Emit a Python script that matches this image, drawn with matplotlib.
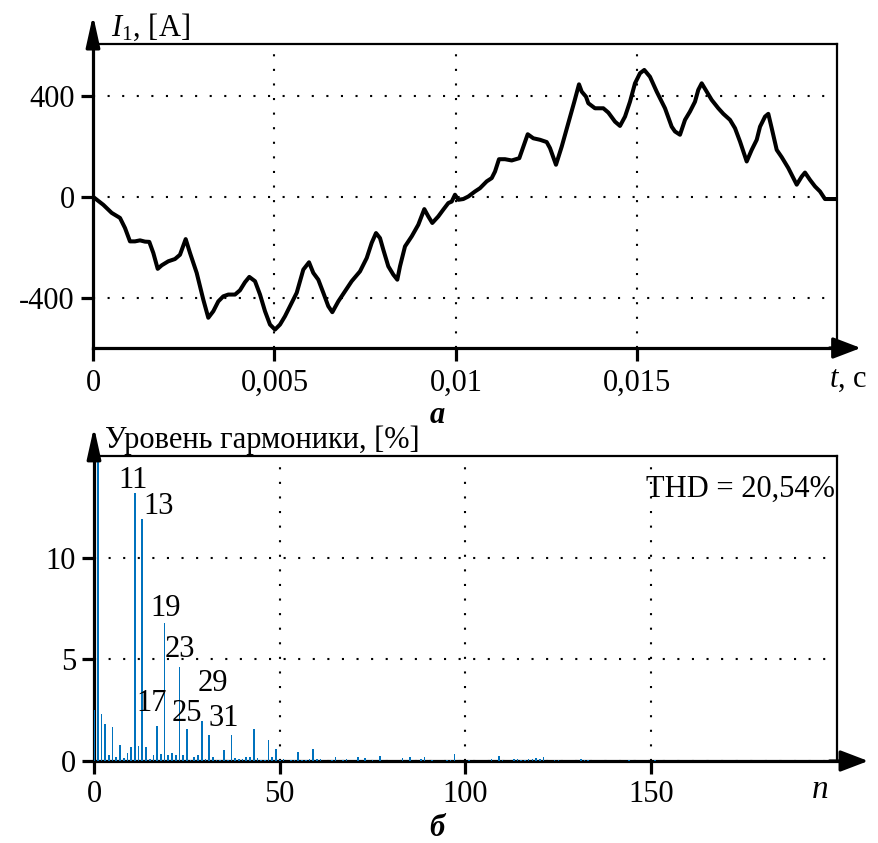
import matplotlib
matplotlib.use('Agg')
import matplotlib.pyplot as plt
import numpy as np

plt.rcParams['font.family'] = ['Liberation Serif', 'DejaVu Serif']
plt.rcParams['mathtext.fontset'] = 'custom'
plt.rcParams['mathtext.rm'] = 'Liberation Serif'
plt.rcParams['mathtext.it'] = 'Liberation Serif:italic'

# ---- data: phase current waveform ----
time_ms = [0.0, 0.284, 0.515, 0.744, 0.882, 1.019, 1.157, 1.295, 1.433, 1.551,
           1.662, 1.783, 1.893, 2.075, 2.259, 2.397, 2.554, 2.673, 2.857, 3.039,
           3.177, 3.315, 3.453, 3.590, 3.728, 3.913, 4.050, 4.188, 4.307, 4.464,
           4.602, 4.739, 4.877, 5.015, 5.153, 5.290, 5.428, 5.613, 5.795, 5.952,
           6.070, 6.208, 6.346, 6.483, 6.594, 6.759, 6.944, 7.128, 7.357, 7.542,
           7.679, 7.798, 7.908, 7.999, 8.137, 8.275, 8.385, 8.459, 8.597, 8.782,
           8.963, 9.129, 9.239, 9.349, 9.514, 9.652, 9.790, 9.884, 9.974, 10.066,
           10.203, 10.341, 10.526, 10.663, 10.848, 10.986, 11.077, 11.187, 11.352, 11.537,
           11.746, 11.857, 11.978, 12.132, 12.317, 12.501, 12.592, 12.757, 12.915, 13.097,
           13.262, 13.391, 13.466, 13.584, 13.648, 13.832, 14.061, 14.199, 14.383, 14.521,
           14.659, 14.796, 14.934, 15.072, 15.190, 15.347, 15.532, 15.761, 15.945, 16.036,
           16.174, 16.312, 16.449, 16.587, 16.678, 16.772, 16.910, 17.048, 17.230, 17.368,
           17.552, 17.690, 17.828, 18.012, 18.150, 18.288, 18.379, 18.517, 18.607, 18.701,
           18.839, 18.977, 19.158, 19.390, 19.527, 19.618, 19.756, 19.894, 20.032, 20.169,
           20.307, 20.464]
current_A = [0, -32, -64, -84, -124, -177, -177, -173, -178, -179,
             -223, -286, -272, -256, -247, -230, -168, -223, -302, -408,
             -480, -454, -415, -395, -388, -388, -371, -339, -318, -335,
             -388, -454, -507, -527, -507, -474, -434, -381, -289, -260,
             -302, -329, -381, -434, -458, -415, -375, -335, -296, -243,
             -183, -144, -164, -210, -276, -309, -329, -276, -197, -157,
             -111, -49, -78, -104, -78, -51, -25, -19, 8, -12,
             -9, 1, 21, 34, 61, 74, 100, 149, 149, 144,
             153, 199, 248, 232, 226, 217, 193, 127, 199, 292,
             377, 446, 417, 397, 371, 351, 351, 334, 298, 281,
             318, 377, 450, 490, 503, 476, 417, 351, 278, 259,
             246, 305, 338, 377, 424, 450, 417, 384, 351, 329,
             305, 272, 219, 140, 186, 226, 278, 318, 329, 272,
             186, 157, 114, 48, 80, 96, 67, 41, 21, -9,
             -9, -9]

# ---- data: harmonic spectrum, % of fundamental ----
harm_orders = list(range(0, 62)) + [64, 65, 67, 68, 71, 73, 75, 77, 83, 85, 88, 89, 91,
                                    95, 96, 97, 101, 107, 109, 110, 113, 114, 115, 116,
                                    117, 118, 119, 120, 121, 124, 125, 131, 132, 133,
                                    144, 151]
harm_levels = [2.5, 100.0, 2.3, 1.8, 0.28, 1.67, 0.2, 0.8, 0.15, 0.4,
               0.68, 13.2, 0.75, 11.9, 0.68, 0.12, 0.3, 1.7, 0.35, 6.8,
               0.3, 0.38, 0.28, 4.6, 0.3, 1.55, 0.07, 0.2, 0.28, 1.95,
               0.1, 1.3, 0.22, 0.05, 0.06, 0.55, 0.05, 1.3, 0.15, 0.1,
               0.08, 0.22, 0.22, 1.55, 0.15, 0.07, 0.04, 1.02, 0.2, 0.6,
               0.03, 0.12, 0.02, 0.03, 0.03, 0.45, 0.05, 0.05, 0.1, 0.57,
               0.08, 0.08] + \
              [0.04, 0.22, 0.07, 0.08, 0.22, 0.17, 0.04, 0.23, 0.13, 0.18, 0.08, 0.18, 0.05,
               0.05, 0.05, 0.33, 0.05, 0.08, 0.26, 0.05, 0.08, 0.1, 0.05, 0.05,
               0.1, 0.1, 0.13, 0.1, 0.18, 0.04, 0.04, 0.08, 0.04, 0.04,
               0.04, 0.04]

peak_labels = ['11', '13', '17', '19', '23', '25', '29', '31']
peak_label_n = [10.5, 17.5, 15.6, 19.4, 23.2, 25.1, 32.1, 34.8]
peak_label_v = [13.8, 12.5, 2.85, 7.5, 5.5, 2.35, 3.8, 2.1]
thd_text = 'THD = 20,54%'

top_xticks = [0, 0.005, 0.01, 0.015]
top_xticklabels = ['0', '0,005', '0,01', '0,015']
top_yticks = [-400, 0, 400]
top_yticklabels = ['-400', '0', '400']
bot_xticks = [0, 50, 100, 150]
bot_yticks = [0, 5, 10]

W, H = 879, 843
fig = plt.figure(figsize=(W / 100, H / 100), dpi=100)
FS = 22
grid_kw = dict(color='black', linestyle=(0, (1, 6)), linewidth=1.5)


def style_axes(ax):
    for s in ['left', 'bottom']:
        ax.spines[s].set_linewidth(2.3)
    for s in ['top', 'right']:
        ax.spines[s].set_linewidth(1.6)
    ax.tick_params(direction='out', length=9, width=2.3, labelsize=FS,
                   top=False, right=False)
    ax.grid(True, **grid_kw)
    ax.set_axisbelow(True)


def axis_arrows(ax, xtip, ytip):
    apx = dict(arrowstyle='-|>,head_length=1.7,head_width=0.65', lw=2.3,
               color='black', shrinkA=0, shrinkB=0)
    apy = dict(arrowstyle='-|>,head_length=1.9,head_width=0.42', lw=2.3,
               color='black', shrinkA=0, shrinkB=0)
    ax.annotate('', xy=(xtip, 0), xytext=(0.99, 0), xycoords='axes fraction',
                arrowprops=apx, annotation_clip=False)
    ax.annotate('', xy=(0, ytip), xytext=(0, 0.99), xycoords='axes fraction',
                arrowprops=apy, annotation_clip=False)


# ---------- top: current waveform ----------
ax1 = fig.add_axes([93 / W, 1 - 348 / H, 744 / W, 304 / H])
t = np.array(time_ms) / 1000.0
ax1.plot(t, current_A, color='black', lw=2.9, solid_joinstyle='round')
ax1.set_xlim(0, 0.0205)
ax1.set_ylim(-600, 606)
ax1.set_xticks(top_xticks)
ax1.set_xticklabels(top_xticklabels)
ax1.set_yticks(top_yticks)
ax1.set_yticklabels(top_yticklabels)
style_axes(ax1)
ax1.tick_params(axis='x', pad=6)
ax1.tick_params(axis='y', pad=4)
axis_arrows(ax1, 1.032, 1.095)

fig.text(111 / W, 1 - 27 / H, r'$\mathit{I}_{\mathrm{1}}$, [A]', fontsize=FS,
         ha='left', va='center')
fig.text(829 / W, 1 - 379 / H, r'$\mathit{t}$, c', fontsize=FS, ha='left', va='center')
fig.text(437 / W, 1 - 416 / H, 'а', fontsize=FS, fontweight='bold',
         fontstyle='italic', ha='center', va='center')

# ---------- bottom: harmonic spectrum ----------
ax2 = fig.add_axes([94 / W, 1 - 761 / H, 743 / W, 305 / H])
ax2.bar(harm_orders, harm_levels, width=0.45, color='#0072BD', zorder=3)
ax2.set_xlim(0, 200)
ax2.set_ylim(0, 15)
ax2.set_xticks(bot_xticks)
ax2.set_yticks(bot_yticks)
style_axes(ax2)
ax2.tick_params(axis='x', pad=5)
ax2.tick_params(axis='y', pad=4)
for lab, n, v in zip(peak_labels, peak_label_n, peak_label_v):
    ax2.text(n, v, lab, fontsize=FS, ha='center', va='center', zorder=4)
ax2.text(0.997, 0.89, thd_text, transform=ax2.transAxes, fontsize=FS,
         ha='right', va='center')
axis_arrows(ax2, 1.042, 1.095)

fig.text(105 / W, 1 - 440 / H, 'Уровень гармоники, [%]', fontsize=FS,
         ha='left', va='center')
fig.text(820 / W, 1 - 790 / H, r'$\mathit{n}$', fontsize=FS + 2, ha='center', va='center')
fig.text(437 / W, 1 - 828 / H, 'б', fontsize=FS, fontweight='bold',
         fontstyle='italic', ha='center', va='center')

fig.savefig('out.png', dpi=100)
